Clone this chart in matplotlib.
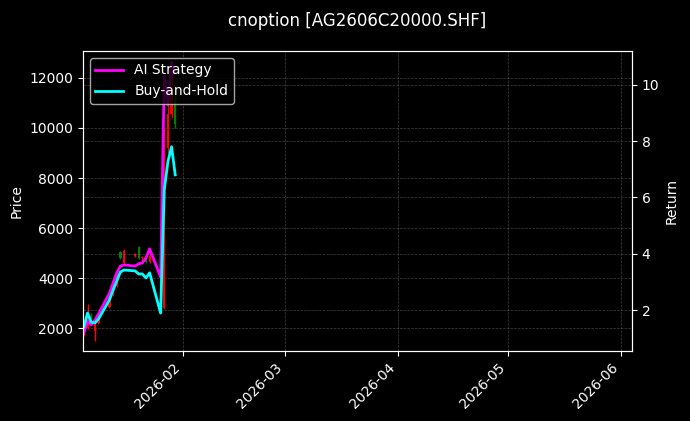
import numpy as np
import pandas as pd
import matplotlib
matplotlib.use("Agg")
import matplotlib.pyplot as plt
import matplotlib.dates as mdates

code = "AG2606C20000.SHF"

dates = ["2026-01-05", "2026-01-06", "2026-01-07", "2026-01-08", "2026-01-09",
         "2026-01-12", "2026-01-13", "2026-01-14", "2026-01-15", "2026-01-16",
         "2026-01-19", "2026-01-20", "2026-01-21", "2026-01-22", "2026-01-23",
         "2026-01-26", "2026-01-27", "2026-01-28", "2026-01-29", "2026-01-30"]

open_ = [1800, 2000, 2500, 1900, 2200, 2850, 3350, 3700, 5050, 4600,
         4900, 5250, 4800, 4850, 4650, 4500, 2800, 9200, 10550, 11100]
high = [2100, 2950, 2600, 2300, 2500, 3450, 3800, 4200, 5100, 5150,
        5000, 5300, 4900, 4900, 4950, 4600, 10000, 11800, 12300, 11400]
low = [1700, 1950, 2150, 1500, 2150, 2800, 3300, 3650, 4750, 4550,
       4850, 4750, 4700, 4600, 4600, 2650, 2750, 9000, 10400, 10000]
close = [2000, 2600, 2250, 2200, 2400, 3350, 3700, 4100, 4800, 5100,
         4950, 4800, 4850, 4650, 4900, 2750, 9100, 10550, 11300, 10150]

ai_strategy = [1.18, 1.60, 1.47, 1.64, 1.86, 2.60, 2.96, 3.32, 3.56, 3.60,
               3.56, 3.64, 3.67, 3.85, 4.17, 3.17, 10.3, 9.3, 10.8, 10.4]
buy_hold = [1.40, 1.89, 1.57, 1.54, 1.68, 2.36, 2.71, 3.03, 3.35, 3.42,
            3.39, 3.28, 3.28, 3.14, 3.32, 1.89, 6.27, 7.27, 7.80, 6.80]

df = pd.DataFrame({"open": open_, "high": high, "low": low, "close": close,
                   "ai": ai_strategy, "bh": buy_hold}, index=pd.to_datetime(dates))

plt.style.use("dark_background")
fig = plt.figure(figsize=(6.9, 4.21), dpi=100)
ax = fig.add_axes([0.120, 0.166, 0.796, 0.713])
ax2 = ax.twinx()

# candles
up = df["close"] >= df["open"]
colors = np.where(up, "red", "green")
x = mdates.date2num(df.index)
ax.vlines(x, df["low"], df["high"], color=colors, linewidth=1)
ax.bar(x, (df["close"] - df["open"]).abs(), bottom=np.minimum(df["open"], df["close"]),
       width=0.6, color=colors)

ax2.plot(df.index, df["ai"], color="magenta", linewidth=2, label="AI Strategy")
ax2.plot(df.index, df["bh"], color="cyan", linewidth=2, label="Buy-and-Hold")

ax.set_xlim(mdates.datestr2num("2026-01-04 17:00"), mdates.datestr2num("2026-06-04"))
ax.set_ylim(1080, 13080)
ax2.set_ylim(0.54, 11.2)

ax.xaxis.set_major_locator(mdates.MonthLocator())
ax.xaxis.set_major_formatter(mdates.DateFormatter("%Y-%m"))
plt.setp(ax.get_xticklabels(), rotation=45, ha="right")

ax.grid(True, linestyle="--", linewidth=0.5, color="gray", alpha=0.5)
ax2.grid(True, linestyle="--", linewidth=0.5, color="gray", alpha=0.5)

ax.set_ylabel("Price")
ax2.set_ylabel("Return")
ax.set_title(f"cnoption [{code}]", pad=18)
ax2.legend(loc="upper left")

fig.savefig("out.png", dpi=100)
